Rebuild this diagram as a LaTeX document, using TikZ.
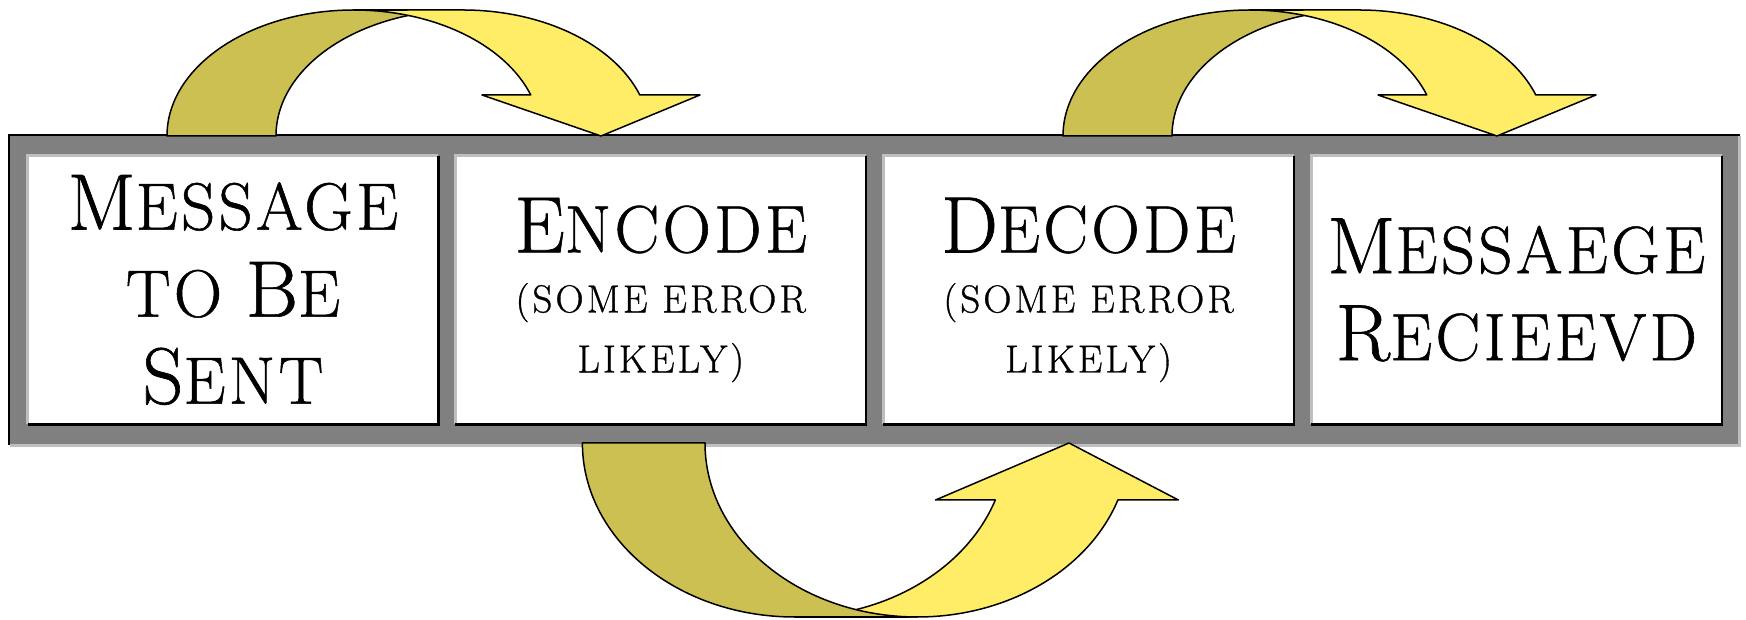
\documentclass[tikz,border=0pt]{standalone}
\usepackage{fontspec}
\setmainfont{Latin Modern Roman}
\usetikzlibrary{positioning}

\definecolor{bandback}{RGB}{204,192,82}
\definecolor{bandfront}{RGB}{255,237,104}
\definecolor{framegray}{RGB}{128,128,128}

% caps and small caps at fixed sizes, a little spaced and thickened
\newcommand\widen{\addfontfeatures{LetterSpace=5,FakeBold=0.8}}
\newcommand\capbig{\fontsize{40}{43.5}\selectfont\widen}
\newcommand\capsmall{\fontsize{33.5}{43.5}\selectfont\widen}
\newcommand\capnote{\fontsize{19.5}{30}\selectfont\addfontfeatures{LetterSpace=8,FakeBold=0.8}}
\newcommand\headword[1]{\headwordx#1\relax}
\def\headwordx#1#2\relax{{\capbig#1}{\capsmall\uppercase{#2}}}
\newcommand\lowword[1]{{\capsmall\uppercase{#1}}}

\begin{document}
\begin{tikzpicture}[
    x=0.5pt, y=0.5pt,
    stage/.style={minimum width=205pt, minimum height=134pt, inner sep=0pt,
      fill=white, align=center, font=\capsmall},
    stage note/.style={stage, font=\capnote},
    rim light/.style={draw=black!25, line width=1.5pt},
    rim dark/.style={draw=black, line width=1.25pt},
    back face/.style={fill=bandback, draw=black, line width=0.75pt, line join=round},
    front face/.style={fill=bandfront, draw=black, line width=0.75pt, line join=round}
  ]
  \useasboundingbox (0,0) rectangle (1746,620);

  % gray frame holding the four stages
  \fill[framegray] (9,176) rectangle (1738,485);
  \draw[black!25, line width=1.5pt] (10,174.5) -- (1739.5,174.5) -- (1739.5,484);
  \draw[line width=1.25pt] (9,175) -- (9,485) -- (1740,485);

  \node[stage] (msg) at (233,330) {\headword{Message}\\\lowword{to} \headword{Be}\\\headword{Sent}};
  \node[stage note, right=8.5pt of msg] (enc) {\headword{Encode}\\\uppercase{(some error}\\\uppercase{likely)}};
  \node[stage note, right=8.5pt of enc] (dec) {\headword{Decode}\\\uppercase{(some error}\\\uppercase{likely)}};
  \node[stage, right=8.5pt of dec] (rcv) {\headword{Messaege}\\\headword{Recieevd}};

  \foreach \n in {msg,enc,dec,rcv}{
    \draw[rim light] (\n.south west) -- (\n.north west) -- (\n.north east);
    \draw[rim dark] (\n.north east) -- (\n.south east) -- (\n.south west);
  }

  % curved arrows over the top
  \foreach \dx in {0,896}{
    \begin{scope}[shift={(\dx,0)}]
      \draw[back face] (167,484) arc[start angle=180, end angle=90, x radius=187, y radius=126]
        -- (463,610) arc[start angle=90, end angle=180, x radius=187, y radius=126] -- cycle;
      \draw[front face] (601,484) -- (482,525) -- (530.8,525)
        arc[start angle=19, end angle=90, x radius=187, y radius=126]
        -- (463,610) arc[start angle=90, end angle=19, x radius=187, y radius=126]
        -- (700,525) -- cycle;
    \end{scope}
  }

  % curved arrow underneath, encode to decode
  \draw[front face] (1069,177) -- (935.5,120) -- (995.3,120)
    arc[start angle=-19.1, end angle=-90, x radius=212.3, y radius=174]
    -- (917.3,3) arc[start angle=-90, end angle=-19.1, x radius=212.3, y radius=174]
    -- (1178.4,120) -- cycle;
  \draw[back face] (582.4,177) arc[start angle=180, end angle=270, x radius=212.3, y radius=174]
    -- (917.3,3) arc[start angle=270, end angle=180, x radius=212.3, y radius=174] -- cycle;
\end{tikzpicture}
\end{document}
